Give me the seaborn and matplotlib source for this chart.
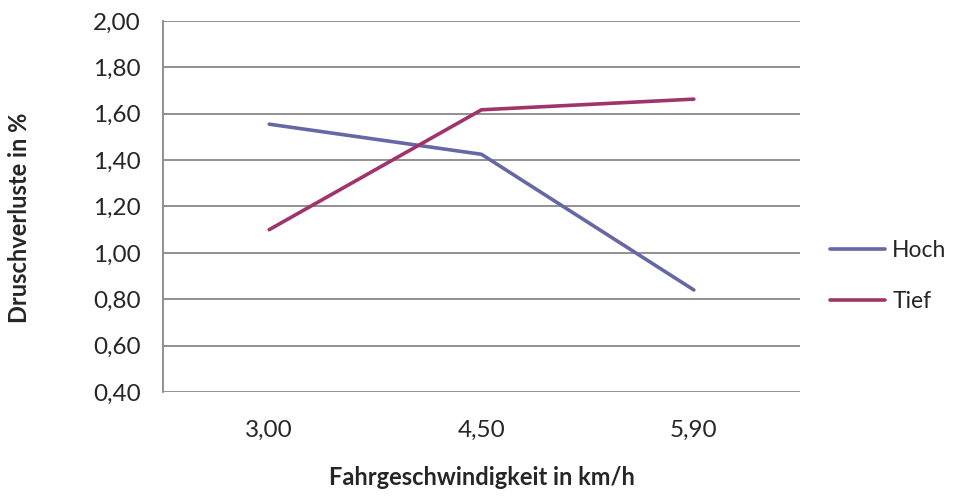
import pandas as pd
import seaborn as sns
import matplotlib.pyplot as plt

# Werte
speeds = ["3,00", "4,50", "5,90"]
hoch = [1.555, 1.425, 0.84]
tief = [1.10, 1.617, 1.663]
yticks = [0.4, 0.6, 0.8, 1.0, 1.2, 1.4, 1.6, 1.8, 2.0]

df = pd.DataFrame({
    "speed": speeds * 2,
    "loss": hoch + tief,
    "series": ["Hoch"] * 3 + ["Tief"] * 3,
})

sns.set_style("white")
plt.rcParams['font.family'] = ['Lato', 'DejaVu Sans']

fig = plt.figure(figsize=(9.55, 4.96), dpi=100)
ax = fig.add_axes([0.1707, 0.2097, 0.667, 0.748])

sns.lineplot(data=df, x="speed", y="loss", hue="series", ax=ax,
             palette={"Hoch": "#6667A5", "Tief": "#A0346A"},
             linewidth=2.6, sort=False)

ax.set_xlim(-0.5, 2.5)
ax.set_ylim(0.4, 2.0)
ax.set_yticks(yticks)
ax.set_yticklabels([f"{v:.2f}".replace(".", ",") for v in yticks])
ax.yaxis.grid(True, color="#888888", linewidth=1.3)
ax.set_axisbelow(True)
for s in ["top", "right", "bottom"]:
    ax.spines[s].set_visible(False)
ax.spines["left"].set_color("#888888")
ax.spines["left"].set_linewidth(1.3)
ax.tick_params(axis="both", length=0, labelsize=17.5)
ax.tick_params(axis="y", pad=16)
ax.tick_params(axis="x", pad=20)

ax.set_xlabel("Fahrgeschwindigkeit in km/h", fontsize=17, fontweight="bold")
ax.set_ylabel("Druschverluste in %", fontsize=17, fontweight="bold")
ax.xaxis.set_label_coords(0.5, -0.2)
ax.yaxis.set_label_coords(-0.207, 0.47)

leg = ax.legend(loc="center left", bbox_to_anchor=(812 / 955, 1 - 276 / 496),
                bbox_transform=fig.transFigure, frameon=False,
                fontsize=16.5, handlelength=2.4, handletextpad=0.3,
                labelspacing=1.3, borderpad=0.3)
for line in leg.get_lines():
    line.set_linewidth(2.6)

fig.savefig("out.png", dpi=100)
